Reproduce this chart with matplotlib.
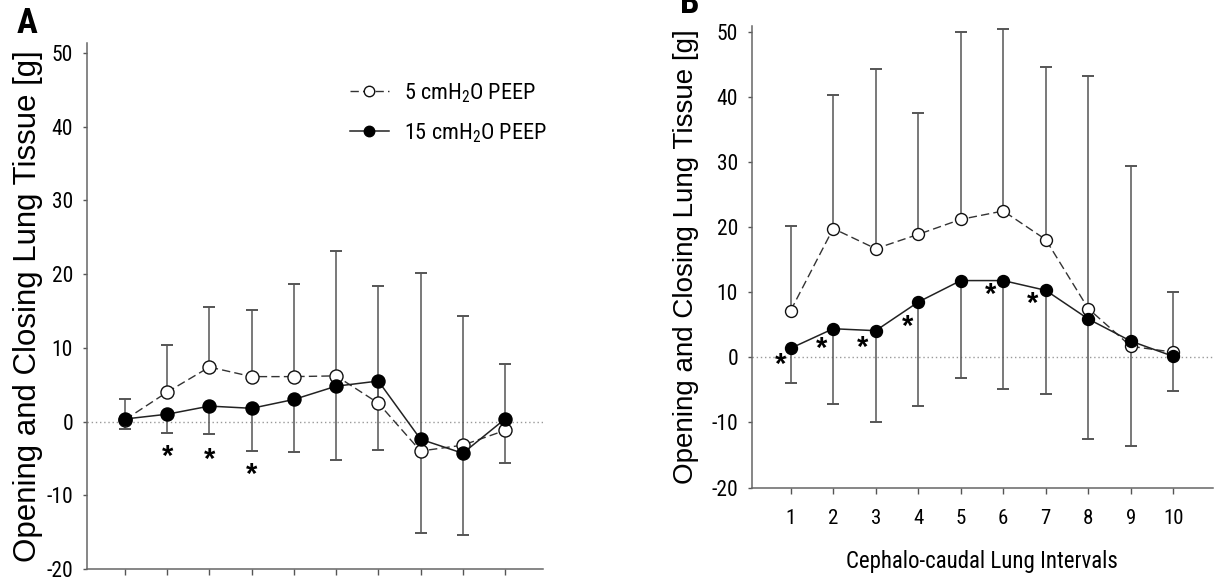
import matplotlib
matplotlib.use('Agg')
import matplotlib.pyplot as plt
import numpy as np

W, H = 1216, 579

narrow = ['Roboto Condensed', 'Liberation Sans', 'DejaVu Sans']
plt.rcParams['font.family'] = narrow
plt.rcParams['axes.unicode_minus'] = False
plt.rcParams['mathtext.fontset'] = 'custom'
plt.rcParams['mathtext.rm'] = 'Roboto Condensed'
plt.rcParams['mathtext.it'] = 'Roboto Condensed'

# data
intervals = [1, 2, 3, 4, 5, 6, 7, 8, 9, 10]
y_ticks = [-20, -10, 0, 10, 20, 30, 40, 50]
label_5 = r'5 cmH$_2$O PEEP'
label_15 = r'15 cmH$_2$O PEEP'
y_title = 'Opening and Closing Lung Tissue [g]'
x_title = 'Cephalo-caudal Lung Intervals'

# panel A
a_peep5 = [0.25, 4.0, 7.4, 6.1, 6.1, 6.2, 2.5, -4.0, -3.2, -1.2]
a_peep15 = [0.35, 1.0, 2.1, 1.8, 3.0, 4.8, 5.5, -2.4, -4.3, 0.35]
a_upper = [3.0, 10.4, 15.6, 15.1, 18.6, 23.1, 18.4, 20.1, 14.3, 7.8]     # caps of 5 PEEP
a_lower = [-1.0, -1.5, -1.75, -4.0, -4.15, -5.15, -3.8, -15.1, -15.4, -5.65]  # caps of 15 PEEP
a_star_x = [2, 3, 4]
a_star_y = [-4.75, -5.2, -7.3]

# panel B
b_peep5 = [7.2, 19.8, 16.7, 18.9, 21.2, 22.5, 18.1, 7.5, 1.7, 0.8]
b_peep15 = [1.4, 4.4, 4.1, 8.5, 11.8, 11.8, 10.3, 5.9, 2.5, 0.15]
b_upper = [20.2, 40.3, 44.3, 37.5, 50.0, 50.4, 44.6, 43.2, 29.4, 10.0]
b_lower = [-4.0, -7.2, -10.0, -7.4, -3.2, -4.9, -5.7, -12.6, -13.6, -5.1]
b_star_x = [0.75, 1.73, 2.68, 3.74, 5.69, 6.7]
b_star_y = [-1.1, 1.25, 1.4, 4.7, 9.6, 8.2]


def px_axes(fig, x0, x1, top, bottom):
    return fig.add_axes([x0 / W, 1 - bottom / H, (x1 - x0) / W, (bottom - top) / H])


def draw_panel(ax, p5, p15, upper, lower, ms, star_x, star_y):
    x = np.array(intervals)
    p5 = np.array(p5)
    p15 = np.array(p15)
    zero = np.zeros(len(x))
    ax.axhline(0, color='#999999', lw=1, ls=(0, (1, 2)), zorder=1)
    ax.errorbar(x, p5, yerr=[zero, np.array(upper) - p5], fmt='none', ecolor='#555555',
                elinewidth=1.1, capsize=4.3, capthick=1.4, zorder=2)
    ax.errorbar(x, p15, yerr=[p15 - np.array(lower), zero], fmt='none', ecolor='#555555',
                elinewidth=1.1, capsize=4.3, capthick=1.4, zorder=2)
    ax.plot(x, p5, ls=(0, (6, 3)), color='#333333', lw=1, marker='o', mfc='white',
            mec='#111111', mew=1, ms=ms, label=label_5, zorder=3)
    ax.plot(x, p15, ls='-', color='#222222', lw=1.1, marker='o', mfc='black',
            mec='black', ms=ms, label=label_15, zorder=4)
    for sx, sy in zip(star_x, star_y):
        ax.text(sx, sy, '*', ha='center', va='center', fontsize=21, fontweight='bold',
                family='Liberation Sans')

    ax.set_xticks(intervals)
    ax.set_yticks(y_ticks)
    for side in ['top', 'right']:
        ax.spines[side].set_visible(False)
    for side in ['left', 'bottom']:
        ax.spines[side].set_color('#666666')
        ax.spines[side].set_linewidth(1.1)
    ax.tick_params(axis='y', direction='out', length=3.2, width=1, color='#555555',
                   labelsize=15.5, pad=6.5)
    ax.tick_params(axis='x', direction='out', length=4.5, width=1, color='#555555',
                   labelsize=15, pad=11)


fig = plt.figure(figsize=(W / 100, H / 100), dpi=100)

ax_a = px_axes(fig, 86.6, 543, 42.7, 569)
draw_panel(ax_a, a_peep5, a_peep15, a_upper, a_lower, 9.4, a_star_x, a_star_y)
ax_a.set_xlim(0.09, 10.9)
ax_a.set_ylim(-20, 51.4)
ax_a.tick_params(axis='x', labelbottom=False)
ax_a.set_ylabel(y_title, family='Liberation Sans', fontsize=22.5, va='center')
ax_a.yaxis.set_label_coords((28 - 86.6) / (543 - 86.6), 0.5)
ax_a.legend(loc='upper left', bbox_to_anchor=(350 / W, 1 - 81 / H),
            bbox_transform=fig.transFigure, frameon=False, fontsize=16,
            borderpad=0, borderaxespad=0, handlelength=1.75, handletextpad=0.7,
            labelspacing=0.75, markerscale=0.8)

ax_b = px_axes(fig, 751.6, 1212.8, 25.5, 487.5)
draw_panel(ax_b, b_peep5, b_peep15, b_upper, b_lower, 8.6, b_star_x, b_star_y)
ax_b.set_xlim(0.08, 10.93)
ax_b.set_ylim(-20, 51)
ax_b.set_ylabel(y_title, family='Liberation Sans', fontsize=20, va='center')
ax_b.yaxis.set_label_coords((686 - 751.6) / (1212.8 - 751.6), 0.5)
ax_b.set_xlabel(x_title, fontsize=16.5, labelpad=16)

fig.text(17 / W, 1 - 33 / H, 'A', fontsize=25, fontweight='bold', ha='left', va='baseline')
fig.text(680 / W, 1 - 13 / H, 'B', fontsize=25, fontweight='bold', ha='left', va='baseline')

fig.savefig('out.png', dpi=100)
